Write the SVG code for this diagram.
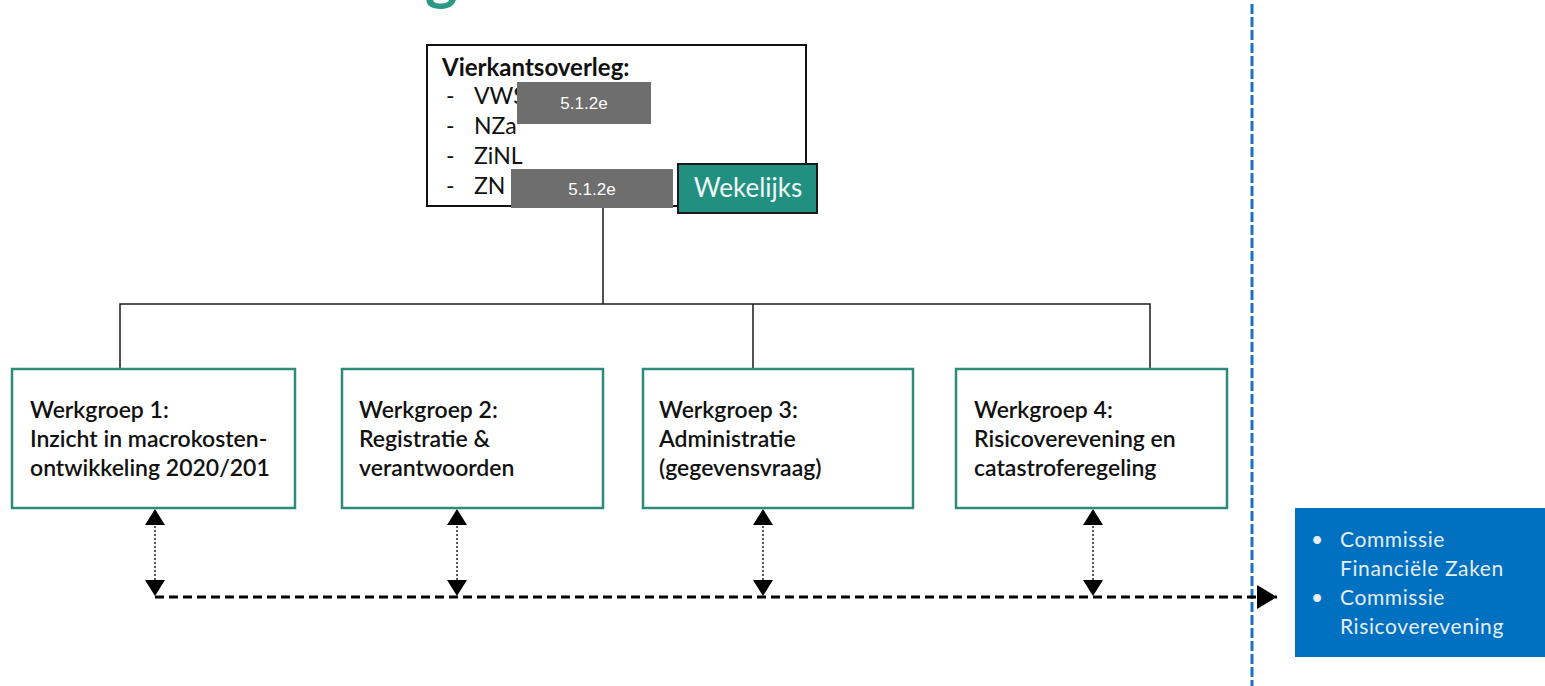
<svg xmlns="http://www.w3.org/2000/svg" width="1545" height="686" viewBox="0 0 1545 686">
<defs>
<style>
.txt{font-family:Lato,"Open Sans","Noto Sans",sans-serif;fill:#111}
.wg{fill:#fff;stroke:#2e8b7c;stroke-width:2.5}
.wgt{font-family:Lato,"Open Sans",sans-serif;font-size:23px;fill:#111;font-weight:600}
.red{fill:#6e6e6e}
.redt{font-family:"Liberation Sans",Arial,sans-serif;font-size:17px;fill:#fff;text-anchor:middle}
.conn{stroke:#1a1a1a;stroke-width:1.5;fill:none}
.dot{stroke:#222;stroke-width:1.5;stroke-dasharray:2 2;fill:none}
.dash{stroke:#000;stroke-width:3;stroke-dasharray:9 5;fill:none}
.ctxt{font-family:Lato,"Open Sans",sans-serif;font-size:21px;fill:#e6eef7;letter-spacing:0.6px}
.head{fill:#000}
</style>
<path id="up" d="M0,0 L10,16 L-10,16 Z"/>
<path id="down" d="M0,0 L10,-16 L-10,-16 Z"/>
<marker id="ahbig" viewBox="0 0 20 24" refX="20" refY="12" markerWidth="20" markerHeight="24" markerUnits="userSpaceOnUse" orient="auto">
<path d="M0,0 L20,12 L0,24 Z" fill="#000"/>
</marker>
</defs>
<rect width="1545" height="686" fill="#fff"/>
<text x="425" y="-2" font-family="Lato,'Open Sans',sans-serif" font-size="62" font-weight="700" fill="#2a9a84">g</text>

<line x1="1252" y1="4" x2="1252" y2="686" stroke="#1f70bf" stroke-width="3" stroke-dasharray="10 3"/>

<g id="connectors">
<path class="conn" d="M603,206 V304 M120,369 V304 H1150 V369 M753,304 V369"/>
<line class="dot" x1="155" y1="522" x2="155" y2="582"/>
<line class="dot" x1="457" y1="522" x2="457" y2="582"/>
<line class="dot" x1="763" y1="522" x2="763" y2="582"/>
<line class="dot" x1="1093" y1="522" x2="1093" y2="582"/>
<g class="head">
<use href="#up" x="155" y="509"/><use href="#down" x="155" y="596"/>
<use href="#up" x="457" y="509"/><use href="#down" x="457" y="596"/>
<use href="#up" x="763" y="509"/><use href="#down" x="763" y="596"/>
<use href="#up" x="1093" y="509"/><use href="#down" x="1093" y="596"/>
</g>
<line class="dash" x1="155" y1="597" x2="1277" y2="597" marker-end="url(#ahbig)"/>
</g>

<g id="vierkantsoverleg">
<rect x="427" y="45" width="379" height="161" fill="#fff" stroke="#111" stroke-width="2"/>
<text class="txt" x="442" y="76" font-size="24" font-weight="700">Vierkantsoverleg:</text>
<text class="txt" font-size="23">
<tspan x="446" y="104">-</tspan><tspan x="474" y="104">VWS</tspan>
<tspan x="446" y="134">-</tspan><tspan x="474" y="134">NZa</tspan>
<tspan x="446" y="164">-</tspan><tspan x="474" y="164">ZiNL</tspan>
<tspan x="446" y="194">-</tspan><tspan x="474" y="194">ZN (</tspan>
</text>
<rect class="red" x="517" y="82" width="134" height="42"/>
<text class="redt" x="584" y="109">5.1.2e</text>
<rect class="red" x="511" y="169" width="162" height="39"/>
<text class="redt" x="592" y="195">5.1.2e</text>
</g>

<g id="wekelijks">
<rect x="678" y="164" width="139" height="49" fill="#229080" stroke="#1a1a1a" stroke-width="2"/>
<text x="748" y="197" font-family="Lato,'Open Sans',sans-serif" font-size="26" fill="#eef7f4" text-anchor="middle">Wekelijks</text>
</g>

<g id="werkgroep1">
<rect class="wg" x="12" y="369" width="283" height="139"/>
<text class="wgt"><tspan x="30" y="418">Werkgroep 1:</tspan><tspan x="30" y="447">Inzicht in macrokosten-</tspan><tspan x="30" y="476">ontwikkeling 2020/201</tspan></text>
</g>
<g id="werkgroep2">
<rect class="wg" x="342" y="369" width="261" height="139"/>
<text class="wgt"><tspan x="359" y="418">Werkgroep 2:</tspan><tspan x="359" y="447">Registratie &amp;</tspan><tspan x="359" y="476">verantwoorden</tspan></text>
</g>
<g id="werkgroep3">
<rect class="wg" x="643" y="369" width="270" height="139"/>
<text class="wgt"><tspan x="659" y="418">Werkgroep 3:</tspan><tspan x="659" y="447">Administratie</tspan><tspan x="659" y="476">(gegevensvraag)</tspan></text>
</g>
<g id="werkgroep4">
<rect class="wg" x="956" y="369" width="271" height="139"/>
<text class="wgt"><tspan x="974" y="418">Werkgroep 4:</tspan><tspan x="974" y="447">Risicoverevening en</tspan><tspan x="974" y="476">catastroferegeling</tspan></text>
</g>

<g id="commissies">
<rect x="1295" y="508" width="250" height="149" fill="#0070c0"/>
<text class="ctxt"><tspan x="1311" y="547">•</tspan><tspan x="1340" y="547">Commissie</tspan><tspan x="1340" y="576">Financiële Zaken</tspan><tspan x="1311" y="605">•</tspan><tspan x="1340" y="605">Commissie</tspan><tspan x="1340" y="634">Risicoverevening</tspan></text>
</g>
</svg>
